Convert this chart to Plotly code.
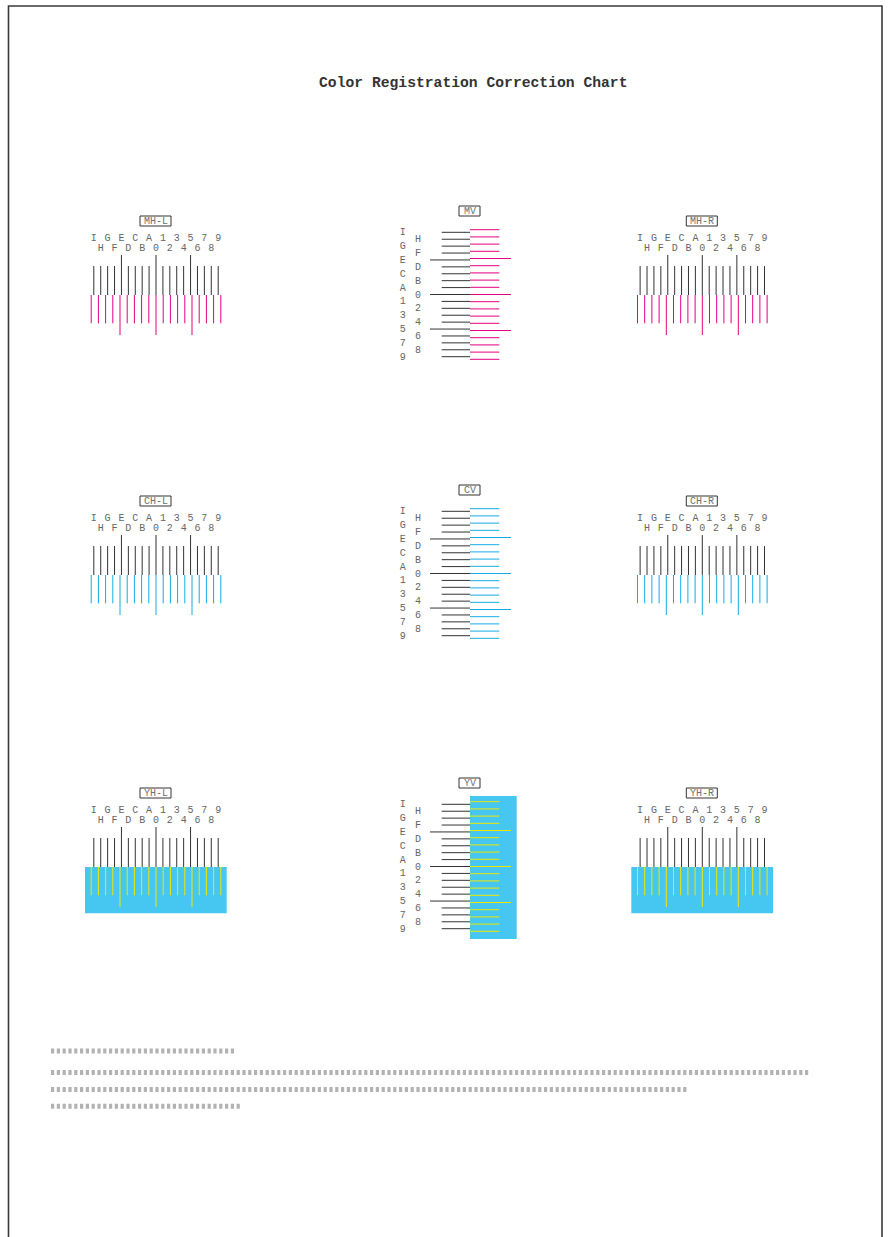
import plotly.graph_objects as go

# vernier scale steps, left to right / top to bottom
STEPS = ["I", "H", "G", "F", "E", "D", "C", "B", "A", "0",
         "1", "2", "3", "4", "5", "6", "7", "8", "9"]
LONG_STEPS = ["E", "0", "5"]
ZERO_STEP = "0"

H_BLOCKS = ["MH-L", "MH-R", "CH-L", "CH-R", "YH-L", "YH-R"]
V_BLOCKS = ["MV", "CV", "YV"]

INK = {"M": "#E4007F", "C": "#14AAE3", "Y": "#F2E600"}
YELLOW_BASE = "#46C7F1"
KEY_LINE = "#333333"
LABEL_GRAY = "#666666"

# placeholder note lines at the bottom (glyph count per line)
NOTE_GLYPHS = [32, 131, 110, 33]

TITLE = "Color Registration Correction Chart"

W, H = 889, 1237
FONT = "Courier New, Liberation Mono, monospace"

KEY_PITCH = 6.91
INK_PITCH = 7.2
H_CENTER_X = {"L": 156.0, "R": 702.3}
H_ROW_DY = {"M": 0, "C": 280, "Y": 572}
V_ROW_DY = {"M": 0, "C": 279, "Y": 572}
V_X = 470.0
V_Y = 294.5

zero = STEPS.index(ZERO_STEP)

fig = go.Figure()

key_x, key_y = [], []
ink_xy = {k: ([], []) for k in INK}
label_x, label_y, label_t = [], [], []
shapes = []
annotations = []

# horizontal (lateral) blocks
for name in H_BLOCKS:
    color = name[0]
    cx = H_CENTER_X[name[-1]]
    dy = H_ROW_DY[color]
    if color == "Y":
        shapes.append(dict(type="rect", x0=cx - 71, x1=cx + 70.7,
                           y0=295 + dy, y1=341.2 + dy, fillcolor=YELLOW_BASE,
                           line=dict(width=0), layer="below"))
    for i, s in enumerate(STEPS):
        long = s in LONG_STEPS
        xk = cx + (i - zero) * KEY_PITCH
        key_x += [xk, xk, None]
        key_y += [(255 if long else 266) + dy, 295 + dy, None]
        xi = cx + (i - zero) * INK_PITCH
        ink_xy[color][0].extend([xi, xi, None])
        ink_xy[color][1].extend([295 + dy, (335 if long else 323.3) + dy, None])
        label_x.append(xk)
        label_y.append((238.3 if i % 2 == 0 else 248.3) + dy)
        label_t.append(s)
    shapes.append(dict(type="rect", x0=cx - 16, x1=cx + 15, y0=216 + dy,
                       y1=226 + dy, line=dict(color=KEY_LINE, width=1)))
    annotations.append(dict(x=cx - 0.5, y=221.3 + dy, text=name, showarrow=False,
                            font=dict(family=FONT, size=10, color="#707070")))

# vertical blocks
for name in V_BLOCKS:
    color = name[0]
    dy = V_ROW_DY[color]
    if color == "Y":
        shapes.append(dict(type="rect", x0=V_X, x1=V_X + 46.7,
                           y0=224 + dy, y1=367 + dy, fillcolor=YELLOW_BASE,
                           line=dict(width=0), layer="below"))
    for i, s in enumerate(STEPS):
        long = s in LONG_STEPS
        yk = V_Y + (i - zero) * KEY_PITCH + dy
        key_x += [430 if long else 441.7, V_X, None]
        key_y += [yk, yk, None]
        yi = V_Y + (i - zero) * INK_PITCH + dy
        ink_xy[color][0].extend([V_X, 511 if long else 499.3, None])
        ink_xy[color][1].extend([yi, yi, None])
        label_x.append(402.7 if i % 2 == 0 else 418)
        label_y.append(yk + 0.5)
        label_t.append(s)
    shapes.append(dict(type="rect", x0=459, x1=480, y0=206 + dy, y1=216 + dy,
                       line=dict(color=KEY_LINE, width=1)))
    annotations.append(dict(x=469.5, y=211.3 + dy, text=name, showarrow=False,
                            font=dict(family=FONT, size=10, color="#707070")))

fig.add_trace(go.Scatter(x=key_x, y=key_y, mode="lines",
                         line=dict(color=KEY_LINE, width=1), hoverinfo="skip"))
for c, (xs, ys) in ink_xy.items():
    fig.add_trace(go.Scatter(x=xs, y=ys, mode="lines",
                             line=dict(color=INK[c], width=1), hoverinfo="skip"))

fig.add_trace(go.Scatter(x=label_x, y=label_y, text=label_t, mode="text",
                         textposition="middle center",
                         textfont=dict(family=FONT, size=10, color=LABEL_GRAY),
                         hoverinfo="skip"))

# placeholder note lines
note_y = [1051, 1072.5, 1089.5, 1106.2]
pitch, glyph_w = 5.8, 3.2
for n, y in zip(NOTE_GLYPHS, note_y):
    fig.add_trace(go.Scatter(
        x=[51, 51 + (n - 1) * pitch + glyph_w], y=[y, y], mode="lines",
        line=dict(color="#B2B2B2", width=5,
                  dash=f"{glyph_w}px,{pitch - glyph_w}px"),
        hoverinfo="skip"))

# page border
fig.add_trace(go.Scatter(x=[8.5, 8.5, 882, 882], y=[1240, 6, 6, 1240], mode="lines",
                         line=dict(color="#3A3A3A", width=1.6), hoverinfo="skip"))

annotations.append(dict(x=473, y=82.5, text=f"<b>{TITLE}</b>", showarrow=False,
                        font=dict(family=FONT, size=14.7, color="#333333")))

fig.update_layout(
    width=W, height=H, autosize=False,
    margin=dict(l=0, r=0, t=0, b=0),
    paper_bgcolor="white", plot_bgcolor="white",
    showlegend=False,
    xaxis=dict(range=[0, W], visible=False, fixedrange=True),
    yaxis=dict(range=[H, 0], visible=False, fixedrange=True),
    shapes=shapes,
    annotations=annotations,
)

fig.write_html("out.html", config=dict(displayModeBar=False),
               post_script="document.body.style.margin='0';")
